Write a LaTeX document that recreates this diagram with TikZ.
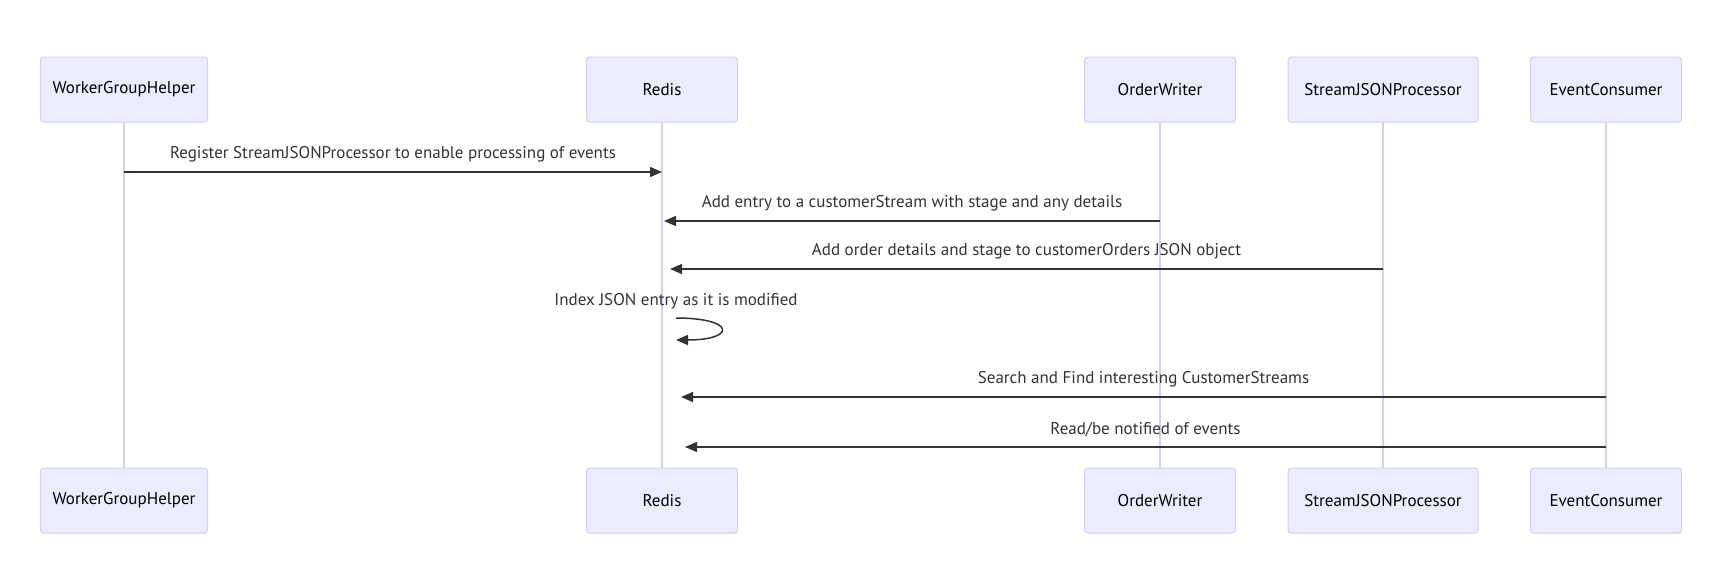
\documentclass[tikz,border=0pt]{standalone}
\usepackage{fontspec}
\setmainfont{PT Sans}
\usetikzlibrary{arrows.meta}
\definecolor{actorfill}{HTML}{ECECFF}
\definecolor{actorline}{HTML}{D6CCF5}
\definecolor{msgline}{HTML}{333333}
\begin{document}
\begin{tikzpicture}
				[x=1pt, y=-1pt,
				actor/.style = {draw=actorline, fill=actorfill, line width=1pt,
				rounded corners=3pt, minimum height=65pt, inner sep=0pt,
				font=\fontsize{17}{20}\selectfont},
				lifeline/.style = {draw=actorline, line width=1.6pt},
				msg/.style = {draw=msgline, line width=1.5pt,
				-{Triangle[length=12pt, width=10pt]}},
				msglabel/.style = {text=msgline, inner sep=0pt,
				font=\fontsize{17}{20}\selectfont}]
				\useasboundingbox (0,0) rectangle (1716,576);
				\foreach \name/\x/\w/\txt in {wgh/124/167/WorkerGroupHelper,
					redis/662/151/Redis, writer/1160/151/OrderWriter,
					proc/1383/190/StreamJSONProcessor, consumer/1606/151/EventConsumer} {
					\node[actor, minimum width=\w pt] (\name-t) at (\x,89.5) {\txt};
					\node[actor, minimum width=\w pt] (\name-b) at (\x,500.5) {\txt};
					\draw[lifeline] (\name-t) -- (\name-b);
				}
				% message end points on the lifelines
				\coordinate (reg-a) at (wgh-t |- 0,172);
				\coordinate (reg-b) at (redis-t |- 0,172);
				\coordinate (add-a) at (writer-t |- 0,221);
				\coordinate (add-b) at (664,221);
				\coordinate (ord-a) at (proc-t |- 0,269);
				\coordinate (ord-b) at (670,269);
				\coordinate (idx-a) at (676,318);
				\coordinate (idx-b) at (676,340);
				\coordinate (find-a) at (consumer-t |- 0,397);
				\coordinate (find-b) at (681,397);
				\coordinate (read-a) at (consumer-t |- 0,447);
				\coordinate (read-b) at (685,447);
				\draw[msg] (reg-a) -- (reg-b)
					node[msglabel, midway, above=9pt] {Register StreamJSONProcessor to enable processing of events};
				\draw[msg] (add-a) -- (add-b)
					node[msglabel, midway, above=9pt] {Add entry to a customerStream with stage and any details};
				\draw[msg] (ord-a) -- (ord-b)
					node[msglabel, midway, above=9pt] {Add order details and stage to customerOrders JSON object};
				\draw[msg] (idx-a) .. controls +(60,0) and +(60,0) .. (idx-b);
				\node[msglabel, above=9pt] (idx-l) at (idx-a) {Index JSON entry as it is modified};
				\draw[msg] (find-a) -- (find-b)
					node[msglabel, midway, above=9pt] {Search and Find interesting CustomerStreams};
				\draw[msg] (read-a) -- (read-b)
					node[msglabel, midway, above=9pt] {Read/be notified of events};
			\end{tikzpicture}
\end{document}
